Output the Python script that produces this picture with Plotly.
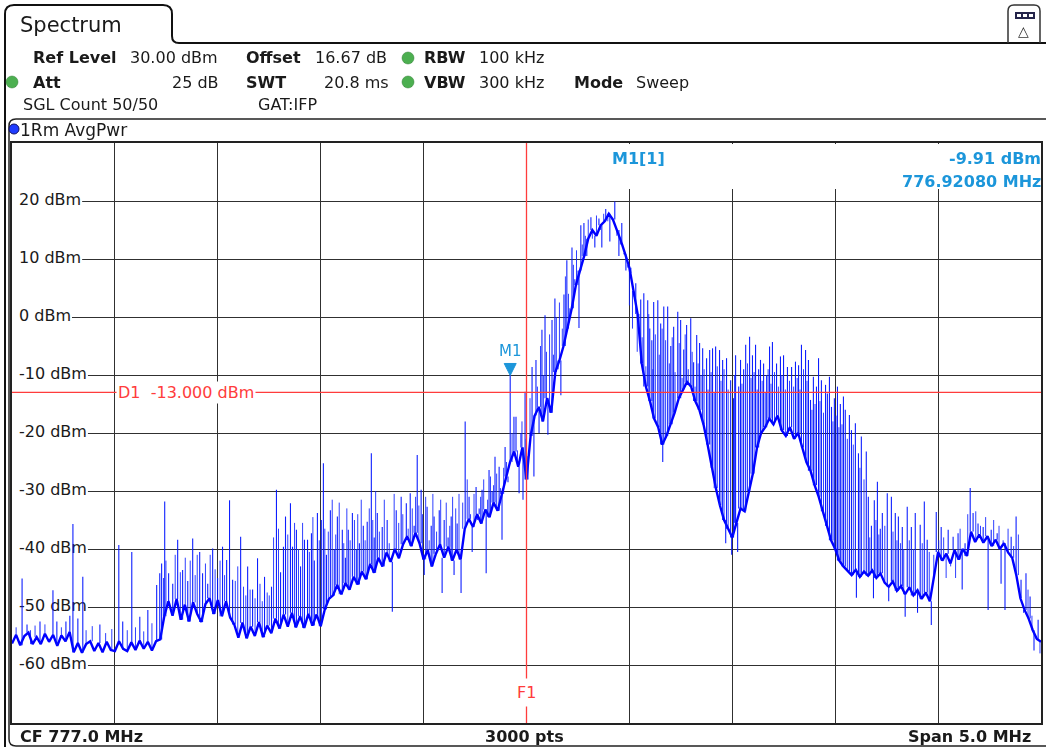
import numpy as np
import plotly.graph_objects as go

F_START_MHZ = 774.5
F_STOP_MHZ = 779.5

# trace floor, one value every 0.02 MHz (251 points)
LEVEL_DBM = [
    -56.3, -54.8, -56.6, -55.0, -54.4, -56.4, -55.2, -56.4, -54.6, -56.0, -54.8, -56.7, -54.9, -55.9, -54.3,
    -57.8, -56.2, -57.9, -56.4, -55.9, -57.6, -56.2, -57.8, -56.0, -57.4, -57.6, -55.9, -57.2, -57.6, -56.1,
    -57.4, -55.8, -57.2, -56.0, -57.5, -55.9, -55.6,
    -51.6, -49.0, -51.5, -48.6, -52.2, -49.6, -52.5, -49.2, -51.2, -52.6, -49.5, -48.5, -51.2, -48.8, -51.6,
    -49.0, -51.8,
    -53.0, -55.3, -52.7, -55.4, -53.4, -55.0, -52.6, -55.2, -53.2,
    -54.5, -52.0, -53.7, -51.3, -53.4, -51.0, -53.5, -51.6, -53.6, -51.2, -53.2, -51.3, -53.3, -50.4, -48.6,
    -48.0, -46.2, -47.8, -45.9, -47.0, -44.8, -46.1, -43.9, -45.2, -42.6, -44.1, -41.5, -43.0, -40.6, -42.2,
    -40.0, -41.6, -39.2,
    -37.8, -39.5, -37.2, -39.0, -41.8, -40.2, -43.0, -40.8, -39.2, -41.5, -39.6, -42.0, -40.1, -41.8, -36.5,
    -34.8, -36.2, -34.0, -35.6, -33.2, -34.5, -32.0, -33.4, -30.5, -27.5, -25.0, -23.2, -25.8, -22.5, -28.0,
    -20.5, -17.0, -15.5, -18.0, -14.0, -16.5, -9.5, -7.5, -5.0, -2.0, 1.5, 5.5, 8.0, 10.5, 13.5,
    15.0, 14.0, 15.8, 16.5, 17.8, 16.8, 15.0, 13.0, 10.8, 8.5, 4.5, 0.5, -8.0,
    -12.0, -14.5, -17.5, -19.0, -22.0, -20.5, -18.5, -16.5, -14.0, -12.5, -11.2, -12.0, -14.5, -16.0, -18.5,
    -22.0, -26.0, -29.5, -32.5, -35.0, -36.5, -38.0, -35.5, -33.0, -33.5, -30.0, -27.0, -22.5, -20.0, -19.0,
    -17.5, -18.5, -17.0, -19.5, -20.5, -19.0, -21.0, -20.0, -22.5, -25.0, -26.5, -29.0, -31.0, -33.5, -36.0,
    -38.5, -40.0, -42.0, -43.0,
    -43.8, -44.5, -43.6, -44.8, -43.9, -44.6, -43.7, -45.0, -44.2, -45.8, -46.5, -45.6, -47.2, -46.4, -47.8,
    -46.6, -48.0, -47.1, -48.6, -47.5, -49.0, -44.5, -40.5, -42.0, -40.8, -42.5, -40.2, -41.8, -40.0, -41.2,
    -37.0, -38.8, -37.5, -38.9, -37.8, -39.5, -38.4, -40.0, -39.0, -40.6, -41.5, -44.5, -48.5, -50.5, -52.0,
    -54.0, -55.5, -56.0,
]

# strong single-sweep spikes: (frequency MHz, level dBm)
SPIKES_MAJOR = [
    (774.549, -45.1), (774.573, -53.0), (774.636, -52.5), (774.699, -47.1), (774.718, -52.5),
    (774.762, -52.5), (774.781, -51.5), (774.796, -35.7), (774.820, -52.0), (774.844, -44.8),
    (774.927, -53.0), (775.019, -39.3), (775.038, -52.5), (775.082, -40.5), (775.121, -51.7),
    (775.160, -50.5), (775.203, -46.2),
    (775.218, -44.2), (775.227, -42.5), (775.242, -31.8), (775.261, -44.2), (775.281, -46.0),
    (775.305, -38.4), (775.329, -43.6), (775.354, -45.5), (775.378, -38.2), (775.412, -40.5),
    (775.426, -44.2), (775.451, -46.0), (775.475, -39.9), (775.499, -45.0), (775.523, -39.6),
    (775.543, -41.9), (775.557, -31.6), (775.572, -45.3), (775.611, -37.9), (775.645, -43.0),
    (775.669, -47.0), (775.693, -41.6), (775.727, -44.8),
    (775.761, -46.5), (775.785, -29.8), (775.805, -44.0), (775.819, -39.6), (775.829, -34.4),
    (775.853, -32.1), (775.863, -39.6), (775.882, -36.7), (775.902, -43.0), (775.921, -38.4),
    (775.936, -38.4), (775.955, -37.3), (775.969, -42.0), (775.984, -33.8), (776.003, -35.0),
    (776.013, -25.2), (776.028, -41.0), (776.047, -33.3), (776.066, -40.0), (776.081, -34.4),
    (776.105, -36.7), (776.120, -41.5), (776.134, -36.7), (776.154, -33.8), (776.173, -40.0),
    (776.188, -39.0), (776.207, -36.0), (776.226, -35.3), (776.246, -23.5), (776.260, -38.0),
    (776.275, -33.8), (776.299, -36.2), (776.323, -35.0), (776.348, -50.8), (776.367, -33.3),
    (776.391, -31.0), (776.416, -32.1), (776.435, -30.4), (776.454, -36.0), (776.469, -23.8),
    (776.488, -29.8), (776.503, -44.5), (776.517, -32.7), (776.537, -36.0), (776.551, -34.4),
    (776.576, -33.3), (776.590, -47.6), (776.600, -35.0), (776.619, -38.0), (776.634, -34.4),
    (776.648, -44.5), (776.663, -35.6), (776.682, -47.6),
    (776.702, -18.0), (776.721, -31.0), (776.736, -40.5), (776.755, -29.3), (776.770, -33.0),
    (776.784, -29.8), (776.804, -44.2), (776.818, -26.4), (776.833, -30.0), (776.847, -24.1),
    (776.867, -25.8), (776.881, -38.4), (776.896, -22.4), (776.910, -28.5), (776.9208, -9.91),
    (776.939, -17.2), (776.949, -17.2), (776.964, -30.4), (776.973, -20.0), (776.983, -31.5),
    (776.993, -12.9), (777.007, -24.0),
    (777.027, -8.6), (777.036, -27.5), (777.046, -7.4), (777.061, -20.0), (777.075, -2.2),
    (777.090, 0.3), (777.104, -20.3), (777.124, -0.5), (777.138, 3.2), (777.153, -9.0),
    (777.167, -13.5), (777.182, 3.9), (777.196, 9.8), (777.211, 0.0), (777.221, 12.0),
    (777.235, 6.5), (777.255, -1.9), (777.264, 15.8), (777.279, 16.2), (777.293, 10.5),
    (777.313, 17.2), (777.332, 12.0), (777.352, 17.0), (777.366, 12.0), (777.385, 18.6),
    (777.405, 13.0), (777.429, 19.9), (777.449, 10.5), (777.463, 16.2), (777.483, 8.0),
    (777.507, 7.6),
    (777.531, 5.8), (777.546, -1.7), (777.555, 3.0), (777.570, 4.1), (777.589, 2.9),
    (777.599, -2.0), (777.609, -4.0), (777.618, 2.6), (777.638, 2.9), (777.652, -1.1),
    (777.662, -25.0), (777.667, 1.8), (777.686, 1.8), (777.701, -5.0), (777.715, -1.7),
    (777.735, 0.9), (777.749, -0.5), (777.764, -5.6), (777.778, -1.4), (777.798, -0.2),
    (777.812, -7.8), (777.827, -3.1), (777.841, -4.5), (777.856, -5.4), (777.875, -7.1),
    (777.890, -5.7), (777.904, -5.4), (777.919, -5.1), (777.938, -5.7), (777.953, -7.4),
    (777.968, -39.0), (777.972, -7.1), (777.992, -10.9), (777.997, -41.0), (778.006, -14.0),
    (778.016, -6.6), (778.026, -40.5), (778.031, -12.0), (778.040, -7.4), (778.055, -9.0),
    (778.065, -4.8), (778.084, -3.4), (778.098, -6.6), (778.113, -4.8), (778.128, -9.0),
    (778.137, -7.4), (778.152, -8.0), (778.167, -10.0), (778.181, -5.1), (778.195, -4.3),
    (778.215, -8.0), (778.234, -6.8), (778.249, -6.6), (778.268, -8.6), (778.288, -8.6),
    (778.307, -7.7), (778.322, -8.3), (778.336, -4.8), (778.356, -5.7), (778.370, -7.4),
    (778.380, -14.3), (778.394, -10.3), (778.409, -12.0), (778.419, -7.1), (778.433, -10.9),
    (778.453, -11.7), (778.462, -13.2), (778.472, -10.3), (778.482, -15.5), (778.496, -14.0),
    (778.511, -12.0), (778.525, -15.0), (778.540, -13.7), (778.549, -16.0), (778.569, -16.9),
    (778.579, -19.5), (778.598, -18.3), (778.603, -48.4), (778.613, -23.5), (778.627, -20.6),
    (778.651, -23.2), (778.661, -31.0), (778.676, -36.0), (778.686, -48.5), (778.690, -31.6),
    (778.705, -28.4), (778.719, -36.5), (778.729, -33.8), (778.753, -30.4), (778.760, -49.0),
    (778.773, -31.0), (778.792, -33.8), (778.807, -34.4), (778.826, -36.2), (778.840, -51.7),
    (778.850, -32.7), (778.870, -36.2), (778.889, -33.8), (778.900, -51.0), (778.913, -35.8),
    (778.933, -31.8), (778.947, -38.4), (778.967, -53.1), (778.991, -33.6), (779.015, -36.2),
    (779.049, -36.7), (779.073, -37.9), (779.097, -37.3), (779.117, -47.0), (779.131, -39.0),
    (779.156, -29.5), (779.170, -33.8), (779.194, -35.6), (779.219, -36.2), (779.243, -50.5),
    (779.258, -36.7), (779.287, -37.3), (779.306, -46.0), (779.325, -50.5), (779.355, -37.9),
    (779.379, -34.4), (779.403, -45.3), (779.427, -44.2), (779.447, -48.2), (779.466, -57.5),
    (779.486, -52.2),
]

# weaker in-between spikes: (frequency MHz, level dBm)
SPIKES_MINOR = [
    (774.520, -53.5), (774.590, -54.0), (774.612, -53.2), (774.660, -53.0), (774.740, -53.5),
    (774.860, -54.0), (774.890, -53.3), (774.955, -54.5), (774.985, -53.8), (775.060, -54.0),
    (775.100, -53.5), (775.140, -54.2), (775.180, -52.8),
    (775.236, -45.0), (775.248, -42.0), (775.293, -41.0), (775.318, -44.0), (775.342, -41.5),
    (775.366, -42.0), (775.390, -44.5), (775.400, -41.0), (775.440, -42.5), (775.463, -41.0),
    (775.487, -43.5), (775.511, -42.0), (775.533, -44.5), (775.585, -45.5), (775.597, -43.0),
    (775.625, -46.5), (775.636, -48.0), (775.657, -47.0), (775.681, -48.5), (775.705, -46.0),
    (775.716, -49.0), (775.740, -47.5), (775.750, -48.0),
    (775.771, -38.0), (775.795, -36.5), (775.840, -37.5), (775.873, -35.5), (775.892, -40.0),
    (775.912, -35.5), (775.945, -40.5), (775.962, -34.5), (775.993, -38.5), (776.020, -36.5),
    (776.037, -37.0), (776.056, -31.5), (776.073, -37.5), (776.090, -32.0), (776.112, -39.0),
    (776.127, -33.0), (776.143, -38.5), (776.164, -35.0), (776.180, -34.0), (776.197, -31.5),
    (776.216, -38.5), (776.236, -33.0), (776.253, -35.0), (776.267, -30.0), (776.285, -37.0),
    (776.309, -31.5), (776.333, -39.0), (776.357, -30.5), (776.379, -35.5), (776.399, -34.0),
    (776.425, -36.5), (776.445, -33.0), (776.461, -31.0), (776.477, -32.5), (776.495, -34.0),
    (776.510, -31.0), (776.527, -38.5), (776.545, -30.5), (776.563, -37.0), (776.583, -31.5),
    (776.610, -32.0), (776.627, -36.0), (776.641, -31.0), (776.656, -33.0), (776.672, -30.5),
    (776.690, -32.0),
    (776.712, -28.0), (776.728, -34.0), (776.745, -30.5), (776.762, -35.0), (776.777, -31.0),
    (776.792, -28.0), (776.811, -31.5), (776.825, -27.5), (776.840, -29.0), (776.855, -27.0),
    (776.874, -29.5), (776.889, -26.0), (776.903, -25.0), (776.930, -20.0), (776.956, -23.0),
    (776.978, -18.0), (776.998, -21.0),
    (777.017, -14.0), (777.053, -12.0), (777.068, -5.0), (777.082, -10.0), (777.097, -6.0),
    (777.112, -3.0), (777.131, -6.5), (777.145, 0.0), (777.160, 2.5), (777.174, -2.0),
    (777.189, 7.0), (777.204, 4.0), (777.228, 9.0), (777.243, 11.5), (777.250, 5.5),
    (777.271, 12.5), (777.286, 14.0), (777.300, 16.8), (777.320, 13.5), (777.340, 17.5),
    (777.359, 15.0), (777.375, 17.8), (777.395, 16.5), (777.415, 17.0), (777.439, 14.0),
    (777.456, 12.5), (777.473, 11.0), (777.492, 9.0), (777.500, 2.0), (777.515, -2.0),
    (777.522, 3.5),
    (777.538, -6.0), (777.562, -3.5), (777.580, -8.5), (777.594, 0.5), (777.614, -9.0),
    (777.626, -3.0), (777.645, -6.5), (777.659, -2.0), (777.676, -4.0), (777.694, -8.0),
    (777.708, -3.5), (777.722, -9.5), (777.742, -4.5), (777.756, -10.5), (777.771, -3.0),
    (777.786, -9.0), (777.805, -6.0), (777.819, -12.0), (777.834, -8.0), (777.848, -10.0),
    (777.863, -9.0), (777.882, -12.5), (777.897, -9.5), (777.912, -13.0), (777.927, -8.5),
    (777.945, -11.0), (777.960, -9.0), (777.980, -12.5), (778.011, -10.0), (778.047, -11.5),
    (778.074, -8.0), (778.091, -10.5), (778.106, -9.5), (778.121, -12.5), (778.145, -11.0),
    (778.160, -13.0), (778.174, -9.0), (778.188, -11.5), (778.205, -9.5), (778.224, -12.0),
    (778.241, -10.0), (778.258, -12.5), (778.278, -11.0), (778.298, -12.0), (778.315, -10.5),
    (778.329, -12.5), (778.346, -9.0), (778.363, -11.0), (778.387, -16.0), (778.402, -15.0),
    (778.426, -14.5), (778.443, -16.5), (778.489, -18.0), (778.504, -17.0), (778.518, -19.0),
    (778.533, -18.5), (778.559, -21.0), (778.588, -22.0), (778.620, -26.0), (778.640, -28.0),
    (778.668, -38.0), (778.698, -35.0), (778.712, -37.5), (778.741, -36.0), (778.781, -37.0),
    (778.800, -38.5), (778.817, -39.0), (778.833, -40.0), (778.860, -38.5), (778.880, -40.0),
    (778.923, -39.0), (778.957, -40.5), (778.979, -41.0), (779.003, -38.5), (779.027, -38.0),
    (779.039, -45.0), (779.061, -43.0), (779.085, -45.0), (779.107, -36.5), (779.144, -34.0),
    (779.183, -33.5), (779.206, -36.0), (779.231, -34.5), (779.270, -35.0), (779.296, -36.0),
    (779.316, -38.5), (779.340, -36.5), (779.367, -39.5), (779.390, -37.5), (779.415, -51.0),
    (779.437, -47.0), (779.456, -51.5), (779.476, -55.0), (779.495, -58.0),
]

Y_TICKS = [20, 10, 0, -10, -20, -30, -40, -50, -60]
Y_MIN, Y_MAX = -70, 30
D1_DBM = -13.0
F1_MHZ = 777.0
M1_MHZ = 776.9208
M1_DBM = -9.91

assert len(LEVEL_DBM) == 251, len(LEVEL_DBM)

# ---------------- page geometry ----------------
W, H = 1046, 747
L, R, T, B = 12, 3, 143, 24
PW, PH = W - L - R, H - T - B
FONT = "DejaVu Sans"
BLUE_TXT = "rgb(28,150,218)"
RED = "rgb(255,60,60)"
TXT = "#1a1a1a"
MHZ_PER_PX = (F_STOP_MHZ - F_START_MHZ) / PW

freq = np.linspace(F_START_MHZ, F_STOP_MHZ, len(LEVEL_DBM))
step = (F_STOP_MHZ - F_START_MHZ) / (len(LEVEL_DBM) - 1)


def spike_xy(pairs):
    xs, ys = [], []
    for f, v in pairs:
        i = int(round((f - F_START_MHZ) / step))
        xs += [f, f, None]
        ys += [LEVEL_DBM[i], v, None]
    return xs, ys


fig = go.Figure()

# y tick labels (under the trace, over the blanking boxes)
fig.add_trace(go.Scatter(
    x=[F_START_MHZ + 7 * MHZ_PER_PX] * len(Y_TICKS), y=Y_TICKS, mode="text",
    text=[f"{v} dBm" for v in Y_TICKS], textposition="middle right",
    textfont=dict(family=FONT, size=16, color=TXT), hoverinfo="skip", cliponaxis=False))

mx, my = spike_xy(SPIKES_MINOR)
fig.add_trace(go.Scatter(x=mx, y=my, mode="lines", connectgaps=False, opacity=0.85,
                         line=dict(color="rgb(10,30,255)", width=1), hoverinfo="skip"))
fig.add_trace(go.Scatter(x=freq, y=LEVEL_DBM, mode="lines",
                         line=dict(color="rgb(0,0,255)", width=2.4), hoverinfo="skip"))
sx, sy = spike_xy(SPIKES_MAJOR)
fig.add_trace(go.Scatter(x=sx, y=sy, mode="lines", connectgaps=False, opacity=0.95,
                         line=dict(color="rgb(0,20,255)", width=1.1), hoverinfo="skip"))


def P(X, Y):
    return f"{X - L:.1f},{H - B - Y:.1f}"


def px_shape(path, color="#111", width=2, fill="rgba(0,0,0,0)", layer="above"):
    return dict(type="path", xref="paper", yref="paper", xsizemode="pixel", ysizemode="pixel",
                xanchor=0, yanchor=0, path=path, line=dict(color=color, width=width),
                fillcolor=fill, layer=layer)


def px_rect(X0, Y0, X1, Y1, fill, color="rgba(0,0,0,0)", width=0, layer="above", kind="rect"):
    return dict(type=kind, xref="paper", yref="paper", xsizemode="pixel", ysizemode="pixel",
                xanchor=0, yanchor=0, x0=X0 - L, x1=X1 - L, y0=H - B - Y0, y1=H - B - Y1,
                fillcolor=fill, line=dict(color=color, width=width), layer=layer)


def blank_box(X0, X1, yval, dy0, dy1):
    # white box in the plot (drawn between grid and traces)
    return dict(type="rect", xref="x", yref="y", xsizemode="pixel", ysizemode="pixel",
                xanchor=F_START_MHZ, yanchor=yval, x0=X0 - L, x1=X1 - L, y0=dy0, y1=dy1,
                fillcolor="white", line=dict(width=0), layer="between")


shapes = []
# Spectrum tab + header line
shapes.append(px_shape(
    "M" + P(5, 747) + " L" + P(5, 14) + " Q" + P(5, 5) + " " + P(14, 5) + " L" + P(163, 5)
    + " Q" + P(172, 5) + " " + P(172, 14) + " L" + P(172, 36) + " Q" + P(172, 43) + " " + P(179, 43)
    + " L" + P(1046, 43), width=2))
# right icon box
shapes.append(px_shape(
    "M" + P(1008, 43) + " L" + P(1008, 11) + " Q" + P(1008, 5) + " " + P(1014, 5) + " L" + P(1034, 5)
    + " Q" + P(1040, 5) + " " + P(1040, 11) + " L" + P(1040, 43), width=1.5, color="#333"))
shapes.append(px_rect(1015, 12, 1035, 19, fill="#24244a"))
for cx in (1019, 1025, 1031):
    shapes.append(px_rect(cx - 2, 14, cx + 2, 17, fill="white"))
# trace window frame
shapes.append(px_shape(
    "M" + P(1046, 119) + " L" + P(16, 119) + " Q" + P(9, 119) + " " + P(9, 126) + " L" + P(9, 739)
    + " Q" + P(9, 746) + " " + P(16, 746) + " L" + P(1046, 746), width=1.5, color="#222"))
# green status dots and blue trace dot
for cx, cy in ((408, 58), (408, 82), (12, 82)):
    shapes.append(px_rect(cx - 6, cy - 6, cx + 6, cy + 6, fill="#4caf50", color="#2e7d32",
                          width=0.5, kind="circle"))
shapes.append(px_rect(9, 124, 19, 134, fill="#1f3cff", color="#101060", width=1, kind="circle"))
# white box behind marker readout
shapes.append(blank_box(600, 1042, Y_MAX, -1, -46))

# boxes that blank the grid behind the y labels
CW = {"d": 0.635, "B": 0.686, "m": 0.974, " ": 0.318, "-": 0.361}
for v in Y_TICKS:
    w = sum(CW.get(c, 0.636) for c in f"{v} dBm") * 16
    shapes.append(blank_box(12, 20 + w, v, -9, 9))

# D1 line and F1 line
shapes.append(dict(type="line", xref="paper", yref="y", x0=0, x1=1, y0=D1_DBM, y1=D1_DBM,
                   line=dict(color=RED, width=1.3), layer="above"))
shapes.append(dict(type="line", xref="x", yref="paper", x0=F1_MHZ, x1=F1_MHZ, y0=0, y1=1,
                   line=dict(color=RED, width=1.3), layer="above"))
# M1 marker triangle
shapes.append(dict(type="path", xref="x", yref="y", xsizemode="pixel", ysizemode="pixel",
                   xanchor=M1_MHZ, yanchor=M1_DBM, path="M -6,11 L 6,11 L 0,-1 Z",
                   fillcolor=BLUE_TXT, line=dict(color=BLUE_TXT, width=1), layer="above"))

ann = []


def A(text, X, Y, xanchor="left", size=16, color=TXT, bold=False):
    # annotation boxes add ~2-3 px of padding; compensate so X is the glyph edge
    shift = {"left": -2, "right": 3, "center": 0}[xanchor]
    ann.append(dict(text=f"<b>{text}</b>" if bold else text, xref="paper", yref="paper",
                    x=(X + shift - L) / PW, y=(H - B - Y) / PH, xanchor=xanchor, yanchor="middle",
                    showarrow=False, font=dict(family=FONT, size=size, color=color)))


A("Spectrum", 20, 25, size=21)
A("Ref Level", 33, 58, bold=True)
A("30.00 dBm", 130, 58)
A("Offset", 246, 58, bold=True)
A("16.67 dB", 316, 58)
A("RBW", 425, 58, bold=True)
A("100 kHz", 480, 58)
A("Att", 33, 82, bold=True)
A("25 dB", 218, 82, xanchor="right")
A("SWT", 246, 82, bold=True)
A("20.8 ms", 389, 82, xanchor="right")
A("VBW", 425, 82, bold=True)
A("300 kHz", 480, 82)
A("Mode", 575, 82, bold=True)
A("Sweep", 637, 82)
A("SGL Count 50/50", 23, 104)
A("GAT:IFP", 258, 104)
A("1Rm AvgPwr", 20, 130, size=17)
A("△", 1025, 31, xanchor="center", size=14, color="#333")
A("CF 777.0 MHz", 20, 736, bold=True)
A("3000 pts", 525, 736, xanchor="center", bold=True)
A("Span 5.0 MHz", 1032, 736, xanchor="right", bold=True)
A("M1[1]", 613, 158, bold=True, color=BLUE_TXT)
A(f"{M1_DBM:.2f} dBm", 1042, 158, xanchor="right", bold=True, color=BLUE_TXT)
A(f"{M1_MHZ:.5f} MHz", 1042, 181, xanchor="right", bold=True, color=BLUE_TXT)

ann.append(dict(text="M1", x=M1_MHZ, y=M1_DBM, xref="x", yref="y", showarrow=False,
                xanchor="center", yanchor="bottom", yshift=12,
                font=dict(family=FONT, size=15, color=BLUE_TXT)))
ann.append(dict(text=f"D1\u00a0\u00a0{D1_DBM:.3f} dBm", x=F_START_MHZ + 0.5, y=D1_DBM, xref="x",
                yref="y", showarrow=False, xanchor="left", yanchor="middle", xshift=1,
                bgcolor="white", borderpad=1, font=dict(family=FONT, size=16, color=RED)))
ann.append(dict(text="F1", x=F1_MHZ, y=-64.8, xref="x", yref="y", showarrow=False,
                xanchor="center", yanchor="middle", bgcolor="white", borderpad=4,
                font=dict(family=FONT, size=16, color=RED)))

fig.update_layout(
    width=W, height=H, margin=dict(l=L, r=R, t=T, b=B, pad=0),
    paper_bgcolor="white", plot_bgcolor="white", showlegend=False,
    font=dict(family=FONT, size=16, color=TXT),
    shapes=shapes, annotations=ann,
    xaxis=dict(range=[F_START_MHZ, F_STOP_MHZ], tick0=F_START_MHZ, dtick=0.5, showticklabels=False,
               ticks="", showgrid=True, gridcolor="#303030", gridwidth=1.3, zeroline=False,
               showline=True, linecolor="#222", linewidth=1.5, mirror=True, fixedrange=True),
    yaxis=dict(range=[Y_MIN, Y_MAX], tick0=0, dtick=10, showticklabels=False, ticks="",
               showgrid=True, gridcolor="#303030", gridwidth=1.3, zeroline=False,
               showline=True, linecolor="#222", linewidth=1.5, mirror=True, fixedrange=True),
)

fig.write_html("out.html", config={"displayModeBar": False})
